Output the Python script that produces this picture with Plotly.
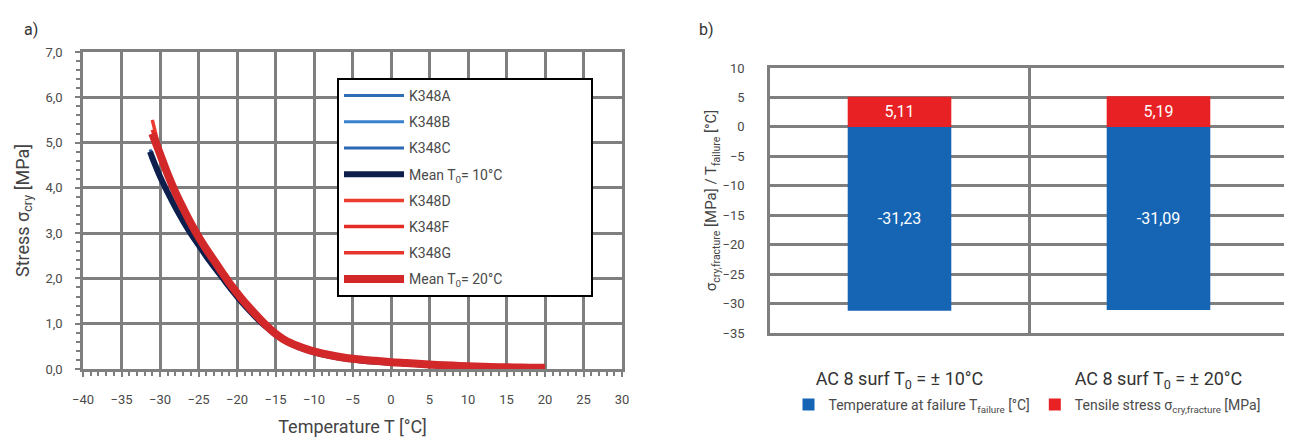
import plotly.graph_objects as go

# ---------------- data: panel a) ----------------
T_RED = [-31, -30, -29, -28, -27, -26, -25, -24, -23, -22, -21, -20, -19, -18, -17, -16,
         -15, -14, -13, -12, -11, -10, -8, -6, -4, -2, 0, 2, 4, 6, 8, 10, 12, 14, 16, 18, 20]
K348D = [5.50, 4.85, 4.38, 3.96, 3.60, 3.27, 2.97, 2.70, 2.44, 2.19, 1.94, 1.72, 1.50, 1.31,
         1.13, 0.96, 0.81, 0.69, 0.59, 0.52, 0.46, 0.41, 0.33, 0.27, 0.22, 0.19, 0.16, 0.14,
         0.12, 0.10, 0.08, 0.065, 0.055, 0.045, 0.04, 0.035, 0.03]
K348F = [5.28, 4.82, 4.36, 3.95, 3.59, 3.26, 2.95, 2.68, 2.42, 2.17, 1.92, 1.70, 1.49, 1.30,
         1.12, 0.95, 0.80, 0.68, 0.58, 0.51, 0.45, 0.40, 0.32, 0.26, 0.215, 0.185, 0.155, 0.135,
         0.115, 0.095, 0.078, 0.062, 0.052, 0.043, 0.037, 0.032, 0.027]
K348G = [5.12, 4.68, 4.24, 3.85, 3.50, 3.18, 2.88, 2.61, 2.36, 2.11, 1.87, 1.65, 1.44, 1.25,
         1.07, 0.91, 0.76, 0.64, 0.55, 0.48, 0.43, 0.38, 0.30, 0.24, 0.20, 0.17, 0.14, 0.12,
         0.10, 0.085, 0.07, 0.058, 0.048, 0.04, 0.034, 0.029, 0.024]
MEAN_20 = [5.20, 4.75, 4.30, 3.90, 3.55, 3.22, 2.92, 2.65, 2.40, 2.15, 1.90, 1.68, 1.47, 1.28,
           1.10, 0.93, 0.78, 0.66, 0.57, 0.50, 0.44, 0.39, 0.31, 0.25, 0.21, 0.18, 0.15, 0.13,
           0.11, 0.09, 0.075, 0.06, 0.05, 0.04, 0.035, 0.03, 0.025]

T_BLUE = [-31.3, -30, -29, -28, -27, -26, -25, -24, -23, -22, -21, -20, -19, -18, -17, -16,
          -15, -14, -13, -12, -11, -10, -8, -6, -4, -2, 0, 2, 4, 6, 8, 10]
K348A = [4.85, 4.29, 3.93, 3.60, 3.30, 3.02, 2.77, 2.52, 2.29, 2.07, 1.84, 1.63, 1.43, 1.24,
         1.07, 0.92, 0.78, 0.67, 0.57, 0.49, 0.43, 0.38, 0.30, 0.24, 0.20, 0.17, 0.145, 0.125,
         0.105, 0.085, 0.07, 0.055]
K348B = [4.70, 4.19, 3.84, 3.51, 3.21, 2.94, 2.69, 2.45, 2.22, 2.00, 1.78, 1.57, 1.37, 1.19,
         1.03, 0.88, 0.75, 0.63, 0.54, 0.47, 0.41, 0.36, 0.28, 0.23, 0.19, 0.16, 0.135, 0.115,
         0.095, 0.078, 0.062, 0.048]
K348C = [4.78, 4.23, 3.88, 3.55, 3.25, 2.97, 2.72, 2.47, 2.24, 2.02, 1.80, 1.59, 1.39, 1.21,
         1.04, 0.89, 0.76, 0.64, 0.55, 0.48, 0.42, 0.37, 0.29, 0.23, 0.19, 0.16, 0.14, 0.12,
         0.10, 0.08, 0.064, 0.05]
MEAN_10 = [4.80, 4.25, 3.90, 3.57, 3.27, 2.99, 2.74, 2.49, 2.26, 2.04, 1.81, 1.60, 1.40, 1.22,
           1.05, 0.90, 0.76, 0.65, 0.56, 0.48, 0.42, 0.37, 0.29, 0.23, 0.19, 0.16, 0.14, 0.12,
           0.10, 0.08, 0.065, 0.05]

# ---------------- data: panel b) ----------------
CATEGORIES = ["AC 8 surf T<sub>0</sub> = ± 10°C", "AC 8 surf T<sub>0</sub> = ± 20°C"]
T_FAILURE = [-31.23, -31.09]
STRESS_FRACTURE = [5.11, 5.19]

# page is 1292x438 with the default 8px body margin -> figure sits at (8, 8)
OFF = 8
W, H = 1292 - OFF, 438 - OFF
GRID = "#7f7f7f"
TICK = "#4a4a4a"
FONT = "Roboto"


def px(x):
    return (x - OFF) / W


def py(y):
    return 1 - (y - OFF) / H


fig = go.Figure()

series = [
    ("K348A", T_BLUE, K348A, "#2f6db5", 3),
    ("K348B", T_BLUE, K348B, "#3b80cc", 3),
    ("K348C", T_BLUE, K348C, "#2a69b3", 3),
    ("Mean T<sub>0</sub>= 10°C", T_BLUE, MEAN_10, "#0f1f4d", 6),
    ("K348D", T_RED, K348D, "#ec3b2f", 3.5),
    ("K348F", T_RED, K348F, "#e52c24", 3.5),
    ("K348G", T_RED, K348G, "#e8352b", 3.5),
    ("Mean T<sub>0</sub>= 20°C", T_RED, MEAN_20, "#d2282a", 8),
]
for name, tx, sy, col, w in series:
    fig.add_trace(go.Scatter(
        x=tx, y=sy, mode="lines", name=name + "\u00a0" * 24,
        line=dict(color=col, width=w, shape="spline"),
        legendgroup=name, legend="legend", xaxis="x", yaxis="y",
    ))

fig.add_trace(go.Bar(
    x=CATEGORIES, y=T_FAILURE, name="Temperature at failure T<sub>failure</sub> [°C]",
    marker=dict(color="#1565b4", line=dict(width=0)),
    texttemplate="%{y:.2f}", textposition="inside", insidetextanchor="middle",
    textfont=dict(color="white", size=16, family=FONT), textangle=0,
    xaxis="x2", yaxis="y2", legend="legend2",
))
fig.add_trace(go.Bar(
    x=CATEGORIES, y=STRESS_FRACTURE, name="Tensile stress σ<sub>cry,fracture</sub> [MPa]",
    marker=dict(color="#e82224", line=dict(width=0)),
    texttemplate="%{y:.2f}", textposition="inside", insidetextanchor="middle",
    textfont=dict(color="white", size=16, family=FONT), textangle=0,
    xaxis="x2", yaxis="y2", legend="legend2",
))

axis_common = dict(showgrid=True, gridcolor=GRID, gridwidth=2.5, showline=True, linecolor=GRID,
                   linewidth=2.5, mirror=True, zeroline=False, automargin=False,
                   tickfont=dict(size=13, color=TICK, family=FONT))

fig.update_layout(
    width=W, height=H,
    margin=dict(l=0, r=0, t=0, b=0, autoexpand=False),
    paper_bgcolor="white", plot_bgcolor="white",
    separators=", ",
    font=dict(family=FONT, color=TICK),
    barmode="relative", bargap=0.6,
    xaxis=dict(
        domain=[px(83), px(622)], anchor="y", range=[-40, 30], tick0=-40, dtick=5,
        ticks="outside", ticklen=5, tickwidth=2, tickcolor=GRID,
        minor=dict(dtick=1, ticks="outside", ticklen=4, tickwidth=1.5, tickcolor=GRID, showgrid=False),
        ticklabelstandoff=12,
        title=dict(text="Temperature T [°C]", font=dict(size=18, color="#444"), standoff=15),
        **axis_common,
    ),
    yaxis=dict(
        domain=[py(369), py(52)], anchor="x", range=[0, 7], dtick=1, tickformat=".1f",
        ticks="outside", ticklen=5, tickwidth=2, tickcolor=GRID,
        minor=dict(dtick=0.2, ticks="outside", ticklen=4, tickwidth=1.5, tickcolor=GRID, showgrid=False),
        ticklabelstandoff=10,
        title=dict(text="Stress σ<sub>cry</sub> [MPa]", font=dict(size=18, color="#444"), standoff=12),
        **axis_common,
    ),
    xaxis2=dict(
        domain=[px(770), px(1288)], anchor="y2", type="category", tickson="boundaries",
        ticks="", ticklabelstandoff=28,
        **{**axis_common, "tickfont": dict(size=18, color="#333", family=FONT)},
    ),
    yaxis2=dict(
        domain=[py(333), py(68)], anchor="x2", range=[-35, 10], dtick=5,
        ticks="", ticklabelstandoff=20,
        title=dict(text="σ<sub>cry,fracture</sub> [MPa] / T<sub>failure</sub> [°C]",
                   font=dict(size=15, color="#444"), standoff=2),
        **axis_common,
    ),
    legend=dict(
        x=px(337), y=py(78), xanchor="left", yanchor="top",
        bgcolor="white", bordercolor="black", borderwidth=2,
        font=dict(size=14, color=TICK, family=FONT),
        tracegroupgap=5, itemwidth=60,
    ),
    legend2=dict(
        orientation="h", x=px(1027), xanchor="center", y=py(405), yanchor="middle",
        font=dict(size=14, color=TICK, family=FONT), itemwidth=30,
    ),
    annotations=[
        dict(text="a)", x=px(22), y=py(18), xref="paper", yref="paper", showarrow=False,
             font=dict(size=16, color="#333")),
        dict(text="b)", x=px(706), y=py(18), xref="paper", yref="paper", showarrow=False,
             font=dict(size=16, color="#333")),
    ],
)

fig.write_html("out.html")
